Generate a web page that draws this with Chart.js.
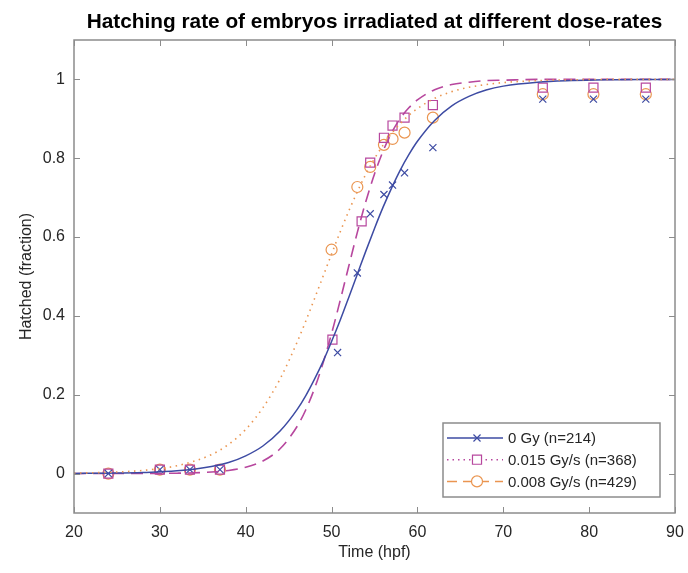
<!DOCTYPE html>
<html>
<head>
<meta charset="utf-8">
<script src="https://cdn.jsdelivr.net/npm/chart.js@4.4.1/dist/chart.umd.min.js"></script>
<style>
  html, body { margin: 0; padding: 0; background: #fff; }
</style>
</head>
<body>
<canvas id="hatchChart" width="688" height="573"></canvas>
<script>
// fitted curves
const fitTime = [20, 24, 28, 32, 36, 38, 40, 42, 44, 46, 47, 48, 49, 50, 51, 52, 53, 54, 55, 56, 57, 58, 59, 60, 62, 64, 66, 68, 70, 74, 78, 82, 86, 90];
const fit0Gy  = [0.0004, 0.0011, 0.0027, 0.007, 0.018, 0.028, 0.045, 0.07, 0.108, 0.163, 0.198, 0.239, 0.284, 0.335, 0.389, 0.447, 0.506, 0.565, 0.622, 0.676, 0.725, 0.77, 0.809, 0.843, 0.896, 0.933, 0.957, 0.973, 0.983, 0.993, 0.997, 0.999, 1, 1];
const fit015  = [0, 0.0001, 0.0003, 0.001, 0.004, 0.008, 0.016, 0.032, 0.063, 0.12, 0.162, 0.215, 0.28, 0.355, 0.439, 0.526, 0.612, 0.691, 0.76, 0.818, 0.865, 0.901, 0.928, 0.948, 0.974, 0.987, 0.993, 0.997, 0.998, 1, 1, 1, 1, 1];
const fit008  = [0.0013, 0.0032, 0.008, 0.02, 0.048, 0.074, 0.112, 0.167, 0.24, 0.334, 0.387, 0.443, 0.5, 0.557, 0.613, 0.666, 0.715, 0.76, 0.799, 0.833, 0.863, 0.888, 0.909, 0.926, 0.952, 0.969, 0.98, 0.987, 0.992, 0.997, 0.999, 1, 1, 1];

// observed fractions
const obsTime0Gy = [24, 30, 33.5, 37, 50.7, 53, 54.5, 56.1, 57.1, 58.5, 61.8, 74.6, 80.5, 86.6];
const obs0Gy     = [0, 0.01, 0.01, 0.01, 0.307, 0.509, 0.659, 0.708, 0.732, 0.763, 0.827, 0.95, 0.95, 0.95];
const obsTime015 = [24, 30, 33.5, 37, 50.1, 53.5, 54.5, 56.1, 57.1, 58.5, 61.8, 74.6, 80.5, 86.6];
const obs015     = [0, 0.01, 0.01, 0.01, 0.34, 0.64, 0.789, 0.852, 0.883, 0.903, 0.935, 0.979, 0.979, 0.979];
const obsTime008 = [24, 30, 33.5, 37, 50, 53, 54.5, 56.1, 57.1, 58.5, 61.8, 74.6, 80.5, 86.6];
const obs008     = [0, 0.01, 0.01, 0.01, 0.568, 0.727, 0.778, 0.834, 0.849, 0.865, 0.903, 0.9625, 0.9625, 0.9625];

const xTicks = [20, 30, 40, 50, 60, 70, 80, 90];
const yTicks = [0, 0.2, 0.4, 0.6, 0.8, 1];
const legendLabels = ['0 Gy (n=214)', '0.015 Gy/s (n=368)', '0.008 Gy/s (n=429)'];
const titleText = 'Hatching rate of embryos irradiated at different dose-rates';

const blue = '#3d4ba3';
const magenta = '#b7479e';
const orange = '#ea9550';
const axisGrey = '#8c8c8c';
const textCol = '#262626';
const fontFam = '"Liberation Sans", Arial, Helvetica, sans-serif';

function pts(xs, ys) {
  return xs.map((x, i) => ({ x: x, y: ys[i] }));
}

// legend rows as they appear in the figure
const legendRows = [
  { label: legendLabels[0], color: blue, dash: [], style: 'crossRot', radius: 5 },
  { label: legendLabels[1], color: magenta, dash: [1.5, 4], style: 'rect', radius: 6.4 },
  { label: legendLabels[2], color: orange, dash: [10, 6], style: 'circle', radius: 5.5 }
];

// box, inward ticks, title and legend, matlab style
const matlabAxes = {
  id: 'matlabAxes',
  afterDraw(chart) {
    const ctx = chart.ctx;
    const a = chart.chartArea;
    const xs = chart.scales.x, ys = chart.scales.y;
    ctx.save();
    ctx.strokeStyle = axisGrey;
    ctx.lineWidth = 1.5;
    ctx.strokeRect(a.left, a.top, a.right - a.left, a.bottom - a.top);
    ctx.lineWidth = 1;
    ctx.beginPath();
    xTicks.forEach(v => {
      const px = Math.round(xs.getPixelForValue(v)) + 0.5;
      ctx.moveTo(px, a.bottom); ctx.lineTo(px, a.bottom - 6);
      ctx.moveTo(px, a.top); ctx.lineTo(px, a.top + 6);
    });
    yTicks.forEach(v => {
      const py = Math.round(ys.getPixelForValue(v)) + 0.5;
      ctx.moveTo(a.left, py); ctx.lineTo(a.left + 6, py);
      ctx.moveTo(a.right, py); ctx.lineTo(a.right - 6, py);
    });
    ctx.stroke();

    // title centred over the axes
    ctx.fillStyle = '#000';
    ctx.font = 'bold 20.8px ' + fontFam;
    ctx.textAlign = 'center';
    ctx.textBaseline = 'middle';
    ctx.fillText(titleText, (a.left + a.right) / 2, 22);

    // legend
    const lx = 443, ly = 423, lw = 217, lh = 74;
    ctx.fillStyle = '#fff';
    ctx.fillRect(lx, ly, lw, lh);
    ctx.strokeStyle = axisGrey;
    ctx.lineWidth = 1.5;
    ctx.strokeRect(lx, ly, lw, lh);
    ctx.font = '15px ' + fontFam;
    ctx.textAlign = 'left';
    legendRows.forEach((r, i) => {
      const y = ly + 15 + i * 21.7;
      ctx.strokeStyle = r.color;
      ctx.lineWidth = 1.5;
      ctx.setLineDash(r.dash);
      ctx.beginPath();
      ctx.moveTo(lx + 4, y);
      ctx.lineTo(lx + 60, y);
      ctx.stroke();
      ctx.setLineDash([]);
      ctx.lineWidth = 1.2;
      ctx.fillStyle = '#fff';
      Chart.helpers.drawPoint(ctx, { pointStyle: r.style, radius: r.radius, rotation: 0, borderWidth: 1.2 }, lx + 34, y);
      ctx.fillStyle = textCol;
      ctx.fillText(r.label, lx + 65, y + 1);
    });
    ctx.restore();
  }
};

const ctx = document.getElementById('hatchChart');
const chart = new Chart(ctx, {
  type: 'scatter',
  data: {
    datasets: [
      { data: pts(fitTime, fit008), showLine: true, borderColor: orange, borderWidth: 1.6, borderDash: [1.5, 4.5], pointRadius: 0, cubicInterpolationMode: 'monotone' },
      { data: pts(fitTime, fit0Gy), showLine: true, borderColor: blue, borderWidth: 1.5, pointRadius: 0, cubicInterpolationMode: 'monotone' },
      { data: pts(fitTime, fit015), showLine: true, borderColor: magenta, borderWidth: 1.6, borderDash: [12, 7], pointRadius: 0, cubicInterpolationMode: 'monotone' },
      { data: pts(obsTime0Gy, obs0Gy), pointStyle: 'crossRot', pointRadius: 5, borderColor: blue, borderWidth: 1.2, backgroundColor: 'rgba(0,0,0,0)' },
      { data: pts(obsTime015, obs015), pointStyle: 'rect', pointRadius: 6.4, borderColor: magenta, borderWidth: 1.2, backgroundColor: 'rgba(0,0,0,0)' },
      { data: pts(obsTime008, obs008), pointStyle: 'circle', pointRadius: 5.5, borderColor: orange, borderWidth: 1.2, backgroundColor: 'rgba(0,0,0,0)' }
    ]
  },
  options: {
    responsive: false,
    animation: false,
    devicePixelRatio: 1,
    layout: { padding: { top: 40, right: 13, left: 0, bottom: 0 } },
    plugins: {
      legend: { display: false },
      title: { display: false },
      tooltip: { enabled: false }
    },
    scales: {
      x: {
        type: 'linear',
        min: 20, max: 90,
        afterFit: s => { s.height = 60; s.paddingLeft = 0; s.paddingRight = 0; },
        afterBuildTicks: s => { s.ticks = xTicks.map(v => ({ value: v })); },
        grid: { display: false, drawTicks: false },
        border: { display: false },
        ticks: { color: textCol, padding: 10, font: { family: fontFam, size: 16 } },
        title: { display: true, text: 'Time (hpf)', color: textCol, font: { family: fontFam, size: 16 }, padding: { top: 0, bottom: 11 } }
      },
      y: {
        type: 'linear',
        min: -0.1, max: 1.1,
        afterFit: s => { s.width = 74; s.paddingTop = 0; s.paddingBottom = 0; },
        afterBuildTicks: s => { s.ticks = yTicks.map(v => ({ value: v })); },
        grid: { display: false, drawTicks: false },
        border: { display: false },
        ticks: { color: textCol, padding: 9, font: { family: fontFam, size: 16 }, callback: v => String(Math.round(v * 10) / 10) },
        title: { display: true, text: 'Hatched (fraction)', color: textCol, font: { family: fontFam, size: 16 }, padding: { top: 17, bottom: 0 } }
      }
    }
  },
  plugins: [matlabAxes]
});
</script>
</body>
</html>
